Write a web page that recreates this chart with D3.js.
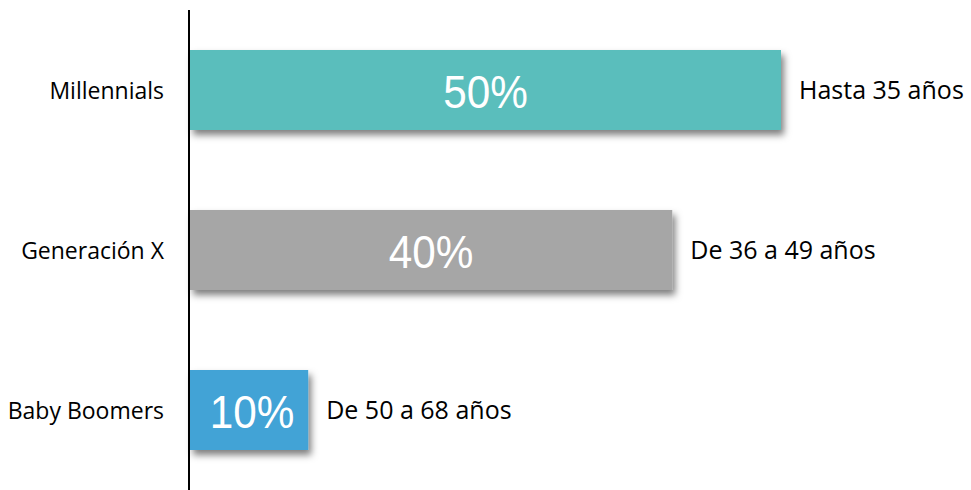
<!DOCTYPE html>
<html><head><meta charset="utf-8">
<script src="https://cdn.jsdelivr.net/npm/d3@7"></script>
<style>html,body{margin:0;padding:0;background:#fff;}svg{display:block;}</style>
</head><body>
<svg id="chart" width="971" height="490"></svg>
<script>
const categories = ["Millennials", "Generación X", "Baby Boomers"];
const values = [50, 40.8, 10];
const valueLabels = ["50%", "40%", "10%"];
const ageLabels = ["Hasta 35 años", "De 36 a 49 años", "De 50 a 68 años"];
const colors = ["#5abebc", "#a6a6a6", "#43a3d6"];

const svg = d3.select("#chart");
const x = d3.scaleLinear().domain([0, 50]).range([190, 781]);
const y = d3.scaleBand().domain(categories).range([10, 490]).paddingInner(0.5).paddingOuter(0.25);

const defs = svg.append("defs");
const f = defs.append("filter").attr("id", "shadow").attr("x", "-10%").attr("y", "-30%").attr("width", "130%").attr("height", "180%");
f.append("feDropShadow").attr("dx", 3).attr("dy", 5).attr("stdDeviation", 3.5).attr("flood-color", "#000").attr("flood-opacity", 0.5);

const rows = categories.map((c, i) => ({c, v: values[i], lab: valueLabels[i], age: ageLabels[i], col: colors[i]}));

svg.selectAll("rect.bar").data(rows).join("rect").attr("class", "bar")
  .attr("x", x(0)).attr("y", d => y(d.c))
  .attr("width", d => x(d.v) - x(0)).attr("height", y.bandwidth())
  .attr("fill", d => d.col).attr("filter", "url(#shadow)");

// axis line
const yAxis = d3.axisLeft(y).tickSize(0).tickFormat("");
const ax = svg.append("g").attr("transform", "translate(189,0)").call(yAxis);
ax.select(".domain").attr("stroke", "#000").attr("stroke-width", 2).attr("d", "M0,10V490");

// category labels
svg.selectAll("text.cat").data(rows).join("text").attr("class", "cat")
  .attr("x", 164).attr("y", d => y(d.c) + y.bandwidth() / 2 + 8.5)
  .attr("text-anchor", "end").attr("font-family", "'Open Sans', sans-serif").attr("font-size", 23)
  .attr("fill", "#000").text(d => d.c);

// value labels in bars
svg.selectAll("text.val").data(rows).join("text").attr("class", "val")
  .attr("transform", d => `translate(${(x(0) + x(d.v)) / 2 + (d.v < 20 ? 3 : 0)},${y(d.c) + y.bandwidth() / 2 + 18}) scale(0.9,1)`)
  .attr("text-anchor", "middle").attr("font-family", "'Liberation Sans', Arial, sans-serif").attr("font-size", 47)
  .attr("fill", "#fff").text(d => d.lab);

// age labels
svg.selectAll("text.age").data(rows).join("text").attr("class", "age")
  .attr("x", d => x(d.v) + 18).attr("y", d => y(d.c) + y.bandwidth() / 2 + 8.5)
  .attr("font-family", "'Open Sans', sans-serif").attr("font-size", 25)
  .attr("fill", "#000").text(d => d.age);
</script>
</body></html>
